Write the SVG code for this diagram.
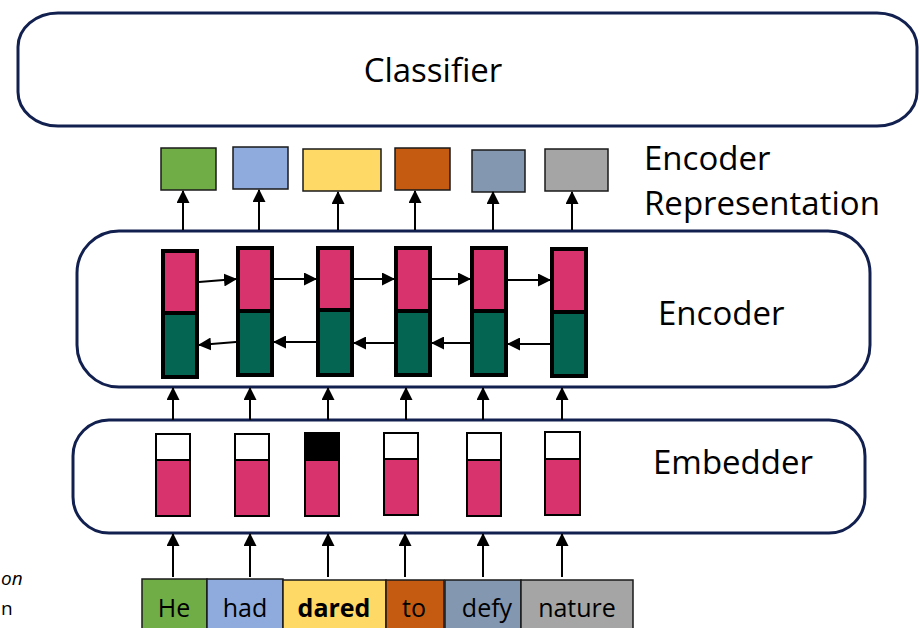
<svg xmlns="http://www.w3.org/2000/svg" width="919" height="628" viewBox="0 0 919 628">
  <style>
    .panel { fill: #ffffff; stroke: #12204f; stroke-width: 3; }
    .lbl { font-family: "Open Sans", "Noto Sans", sans-serif; fill: #000000; }
    .big { font-size: 33px; }
    .tok { font-size: 25px; text-anchor: middle; }
    .rep { stroke: #1a1a1a; stroke-width: 1.5; }
    .cell { stroke: #000000; stroke-width: 4; }
    .emb { stroke: #000000; stroke-width: 2; }
    .pink { fill: #d9336e; }
    .teal { fill: #036552; }
    .arr { stroke: #000000; stroke-width: 2; fill: none; marker-end: url(#ah); }
    .tokbox { stroke: #1a1a1a; stroke-width: 1.5; }
  </style>
  <defs>
    <marker id="ah" markerUnits="userSpaceOnUse" markerWidth="13" markerHeight="13" refX="12" refY="6.5" orient="auto">
      <path d="M0,0 L13,6.5 L0,13 z" fill="#000000"/>
    </marker>
  </defs>
  <rect width="919" height="628" fill="#ffffff"/>

  <g id="classifier">
    <rect class="panel" x="18" y="13" width="899" height="113" rx="40" ry="34"/>
    <text class="lbl" x="433" y="82" font-size="33" text-anchor="middle">Classifier</text>
  </g>

  <g id="encoder-representation">
    <rect class="rep" x="161" y="148" width="55" height="42" fill="#70ad47"/>
    <rect class="rep" x="233" y="147" width="55" height="42" fill="#8faadc"/>
    <rect class="rep" x="303" y="149" width="78" height="42" fill="#ffd966"/>
    <rect class="rep" x="395" y="148" width="55" height="42" fill="#c55a11"/>
    <rect class="rep" x="472" y="150" width="53" height="42" fill="#8497b0" stroke="#555555"/>
    <rect class="rep" x="545" y="149" width="63" height="42" fill="#a5a5a5"/>
    <text class="lbl big" x="644" y="170">Encoder</text>
    <text class="lbl big" x="644" y="215">Representation</text>
  </g>

  <g id="encoder">
    <rect class="panel" x="77" y="231" width="793" height="156" rx="42" ry="42"/>
    <rect class="cell pink" x="163" y="251" width="34" height="62"/>
    <rect class="cell teal" x="163" y="313" width="34" height="64"/>
    <rect class="cell pink" x="238" y="248" width="34" height="63"/>
    <rect class="cell teal" x="238" y="311" width="34" height="64"/>
    <rect class="cell pink" x="318" y="248" width="34" height="62"/>
    <rect class="cell teal" x="318" y="310" width="34" height="65"/>
    <rect class="cell pink" x="396" y="248" width="34" height="63"/>
    <rect class="cell teal" x="396" y="311" width="34" height="64"/>
    <rect class="cell pink" x="472" y="248" width="34" height="63"/>
    <rect class="cell teal" x="472" y="311" width="34" height="64"/>
    <rect class="cell pink" x="552" y="249" width="34" height="63"/>
    <rect class="cell teal" x="552" y="312" width="34" height="64"/>
    <text class="lbl big" x="658" y="325">Encoder</text>
  </g>

  <g id="embedder">
    <rect class="panel" x="73" y="420" width="792" height="113" rx="36" ry="36"/>
    <rect class="emb" x="156" y="434" width="34" height="26" fill="#ffffff"/>
    <rect class="emb pink" x="156" y="460" width="34" height="56"/>
    <rect class="emb" x="235" y="434" width="34" height="26" fill="#ffffff"/>
    <rect class="emb pink" x="235" y="460" width="34" height="56"/>
    <rect class="emb" x="305" y="433" width="34" height="27" fill="#000000"/>
    <rect class="emb pink" x="305" y="460" width="34" height="56"/>
    <rect class="emb" x="384" y="433" width="34" height="26" fill="#ffffff"/>
    <rect class="emb pink" x="384" y="459" width="34" height="56"/>
    <rect class="emb" x="467" y="433" width="34" height="27" fill="#ffffff"/>
    <rect class="emb pink" x="467" y="460" width="34" height="56"/>
    <rect class="emb" x="545" y="432" width="35" height="27" fill="#ffffff"/>
    <rect class="emb pink" x="545" y="459" width="35" height="56"/>
    <text class="lbl big" x="653" y="474">Embedder</text>
  </g>

  <g id="tokens">
    <rect class="tokbox" x="142" y="579" width="65" height="55" fill="#70ad47"/>
    <rect class="tokbox" x="207" y="579" width="76" height="55" fill="#8faadc"/>
    <rect class="tokbox" x="283" y="580" width="103" height="55" fill="#ffd966"/>
    <rect class="tokbox" x="386" y="580" width="58" height="55" fill="#c55a11"/>
    <rect class="tokbox" x="445" y="580" width="76" height="55" fill="#8497b0"/>
    <rect class="tokbox" x="521" y="580" width="112" height="55" fill="#a5a5a5"/>
    <text class="lbl tok" x="174" y="617">He</text>
    <text class="lbl tok" x="245" y="617">had</text>
    <text class="lbl tok" x="334" y="617" font-weight="bold">dared</text>
    <text class="lbl tok" x="414" y="617">to</text>
    <text class="lbl tok" x="487" y="617">defy</text>
    <text class="lbl tok" x="577" y="617">nature</text>
  </g>

  <g id="margin-text">
    <text class="lbl" x="1" y="585" font-size="19" font-style="italic">on</text>
    <text class="lbl" x="1" y="615" font-size="19">n</text>
  </g>

  <g id="connectors">
    <line class="arr" x1="183" y1="230" x2="183" y2="191"/>
    <line class="arr" x1="259" y1="230" x2="259" y2="190"/>
    <line class="arr" x1="338" y1="230" x2="338" y2="192"/>
    <line class="arr" x1="415" y1="230" x2="415" y2="191"/>
    <line class="arr" x1="493" y1="230" x2="493" y2="192"/>
    <line class="arr" x1="572" y1="230" x2="572" y2="192"/>
    <line class="arr" x1="199" y1="282" x2="236" y2="279"/>
    <line class="arr" x1="274" y1="279" x2="316" y2="279"/>
    <line class="arr" x1="354" y1="279" x2="394" y2="279"/>
    <line class="arr" x1="432" y1="279" x2="470" y2="279"/>
    <line class="arr" x1="508" y1="280" x2="550" y2="280"/>
    <line class="arr" x1="236" y1="342" x2="199" y2="345"/>
    <line class="arr" x1="316" y1="342" x2="274" y2="342"/>
    <line class="arr" x1="394" y1="343" x2="354" y2="343"/>
    <line class="arr" x1="470" y1="343" x2="432" y2="343"/>
    <line class="arr" x1="550" y1="344" x2="508" y2="344"/>
    <line class="arr" x1="173" y1="420" x2="173" y2="388"/>
    <line class="arr" x1="250" y1="420" x2="250" y2="388"/>
    <line class="arr" x1="328" y1="420" x2="328" y2="388"/>
    <line class="arr" x1="406" y1="420" x2="406" y2="388"/>
    <line class="arr" x1="483" y1="420" x2="483" y2="388"/>
    <line class="arr" x1="562" y1="420" x2="562" y2="388"/>
    <line class="arr" x1="173" y1="577" x2="173" y2="534"/>
    <line class="arr" x1="250" y1="577" x2="250" y2="534"/>
    <line class="arr" x1="328" y1="577" x2="328" y2="534"/>
    <line class="arr" x1="405" y1="577" x2="405" y2="534"/>
    <line class="arr" x1="483" y1="577" x2="483" y2="534"/>
    <line class="arr" x1="562" y1="577" x2="562" y2="534"/>
  </g>
</svg>
